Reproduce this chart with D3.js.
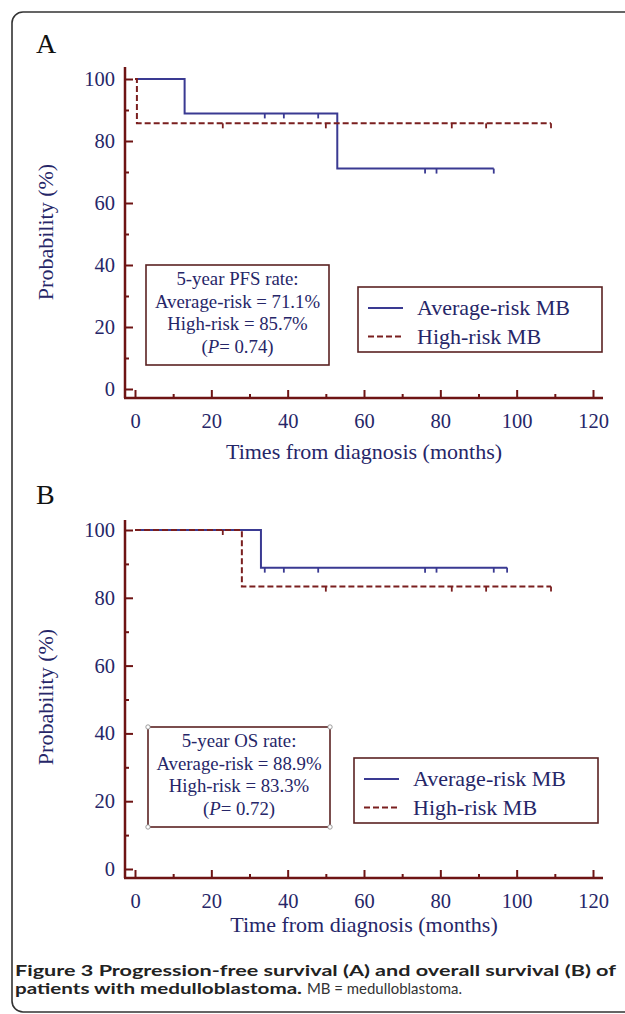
<!DOCTYPE html>
<html><head><meta charset="utf-8">
<script src="https://cdn.jsdelivr.net/npm/d3@7"></script>
<style>
body{margin:0;background:#fff;}
svg{display:block;}
</style></head>
<body>
<svg id="c" width="625" height="1014"></svg>
<script>
// ---------- data ----------
const xTicks = [0,20,40,60,80,100,120];
const xMinor = [10,30,50,70,90,110];
const yTicks = [0,20,40,60,80,100];
const yMinor = [10,30,50,70,90];

// Panel A (PFS)
const avgA_times = [0,13,53,94];
const avgA_surv  = [100,88.9,71.1,71.1];
const avgA_cens  = [34,39,48,76,79,94];
const highA_times = [0,0.5,109];
const highA_surv  = [100,85.7,85.7];
const highA_cens  = [23,50,83,92,109];

// Panel B (OS)
const avgB_times = [0,33,97.5];
const avgB_surv  = [100,88.9,88.9];
const avgB_cens  = [34,39,48,76,79,94,97.5];
const highB_times = [0,28,109];
const highB_surv  = [100,83.3,83.3];
const highB_cens  = [23,50,83,92,109];

const seriesNames = ["Average-risk MB","High-risk MB"];
const statsA = ["5-year PFS rate:","Average-risk = 71.1%","High-risk = 85.7%","0.74"];
const statsB = ["5-year OS rate:","Average-risk = 88.9%","High-risk = 83.3%","0.72"];

// ---------- style ----------
const serif = "'Liberation Serif','Times New Roman',serif";
const navy = "#262668";
const blue = "#3a3a92";
const red = "#7a1f1f";
const axisCol = "#6e1414";
const boxCol = "#5a2222";

const svg = d3.select("#c");

// frame
svg.append("rect").attr("x",12).attr("y",12).attr("width",700).attr("height",1000)
  .attr("rx",11).attr("fill","none").attr("stroke","#333").attr("stroke-width",1.6);

const x = d3.scaleLinear().domain([0,120]).range([135,593]);

function survAt(times, surv, t){
  let s = surv[0];
  for(let i=0;i<times.length;i++){ if(times[i] <= t) s = surv[i]; }
  return s;
}

function panel(o){
  const y = d3.scaleLinear().domain([0,100]).range([o.y0,o.y100]);
  const g = svg.append("g");
  g.append("text").attr("x",36).attr("y",o.letterY).text(o.letter)
    .attr("font-family",serif).attr("font-size",28).attr("fill","#111");
  g.append("line").attr("x1",125).attr("x2",125).attr("y1",o.axTop).attr("y2",o.axY)
    .attr("stroke",axisCol).attr("stroke-width",2.5);
  g.append("line").attr("x1",124).attr("x2",603).attr("y1",o.axY).attr("y2",o.axY)
    .attr("stroke",axisCol).attr("stroke-width",2.5);
  const ya = g.append("g").attr("transform","translate(125,0)")
    .call(d3.axisLeft(y).tickValues(yTicks).tickSize(-8).tickPadding(10));
  const yam = g.append("g").attr("transform","translate(125,0)")
    .call(d3.axisLeft(y).tickValues(yMinor).tickSize(-4).tickFormat(""));
  const xa = g.append("g").attr("transform",`translate(0,${o.axY})`)
    .call(d3.axisBottom(x).tickValues(xTicks).tickSize(-8).tickPadding(15));
  const xam = g.append("g").attr("transform",`translate(0,${o.axY})`)
    .call(d3.axisBottom(x).tickValues(xMinor).tickSize(-4).tickFormat(""));
  [ya,yam,xa,xam].forEach(a=>{
    a.select(".domain").remove();
    a.selectAll(".tick line").attr("stroke",axisCol).attr("stroke-width",2);
    a.selectAll(".tick text").attr("font-family",serif).attr("font-size",20.5).attr("fill",navy);
  });
  g.append("text").attr("transform",`translate(53,${o.yTitleY}) rotate(-90)`)
    .attr("text-anchor","middle").text("Probability (%)")
    .attr("font-family",serif).attr("font-size",22).attr("fill",navy);
  g.append("text").attr("x",364).attr("y",o.xTitleY).attr("text-anchor","middle")
    .text(o.xTitle).attr("font-family",serif).attr("font-size",22).attr("fill",navy);

  const line = d3.line().x(d=>x(d[0])).y(d=>y(d[1])).curve(d3.curveStepAfter);
  function curve(times, surv, cens, col, dash){
    const pts = times.map((t,i)=>[t,surv[i]]);
    g.append("path").attr("d",line(pts)).attr("fill","none").attr("stroke",col)
      .attr("stroke-width",2).attr("stroke-dasharray",dash);
    g.selectAll(null).data(cens).enter().append("line")
      .attr("x1",d=>x(d)).attr("x2",d=>x(d))
      .attr("y1",d=>y(survAt(times,surv,d))).attr("y2",d=>y(survAt(times,surv,d))+5)
      .attr("stroke",col).attr("stroke-width",1.8);
  }
  curve(o.avg[0],o.avg[1],o.avg[2],blue,null);
  curve(o.high[0],o.high[1],o.high[2],red,"6,3");

  const b = o.box;
  g.append("rect").attr("x",b.x).attr("y",b.y).attr("width",b.w).attr("height",b.h)
    .attr("fill","#fff").attr("stroke",boxCol).attr("stroke-width",1.6);
  const cx = b.x + b.w/2;
  o.stats.slice(0,3).forEach((s,i)=>{
    g.append("text").attr("x",cx).attr("y",b.y+20+i*22.5).attr("text-anchor","middle")
      .text(s).attr("font-family",serif).attr("font-size",18.8).attr("fill",navy);
  });
  const pt = g.append("text").attr("x",cx).attr("y",b.y+20+3*22.5).attr("text-anchor","middle")
    .attr("font-family",serif).attr("font-size",18.8).attr("fill",navy);
  pt.append("tspan").text("(");
  pt.append("tspan").attr("font-style","italic").text("P");
  pt.append("tspan").text("= "+o.stats[3]+")");
  if(o.handles){
    [[b.x,b.y],[b.x+b.w,b.y],[b.x,b.y+b.h],[b.x+b.w,b.y+b.h]].forEach(p=>{
      g.append("circle").attr("cx",p[0]).attr("cy",p[1]).attr("r",2.2)
        .attr("fill","#fff").attr("stroke","#888").attr("stroke-width",0.8);
    });
  }
  const L = o.leg;
  g.append("rect").attr("x",L.x).attr("y",L.y).attr("width",L.w).attr("height",L.h)
    .attr("fill","#fff").attr("stroke",boxCol).attr("stroke-width",1.6);
  [[blue,null],[red,"6,3"]].forEach((c,i)=>{
    const ly = L.y + 21 + i*28.5;
    g.append("line").attr("x1",L.x+10).attr("x2",L.x+45).attr("y1",ly).attr("y2",ly)
      .attr("stroke",c[0]).attr("stroke-width",2).attr("stroke-dasharray",c[1]);
    g.append("text").attr("x",L.x+59).attr("y",ly+7).text(seriesNames[i])
      .attr("font-family",serif).attr("font-size",22).attr("fill",navy);
  });
}

panel({letter:"A",letterY:53,y0:389,y100:79,axY:398,axTop:67,yTitleY:232,xTitleY:459,
  xTitle:"Times from diagnosis (months)",
  avg:[avgA_times,avgA_surv,avgA_cens],high:[highA_times,highA_surv,highA_cens],
  box:{x:146,y:265,w:183,h:100},stats:statsA,handles:false,
  leg:{x:358,y:287,w:244,h:65}});

panel({letter:"B",letterY:504,y0:869,y100:530,axY:878,axTop:520,yTitleY:697,xTitleY:932,
  xTitle:"Time from diagnosis (months)",
  avg:[avgB_times,avgB_surv,avgB_cens],high:[highB_times,highB_surv,highB_cens],
  box:{x:148,y:727,w:182,h:100},stats:statsB,handles:true,
  leg:{x:354,y:758,w:244,h:65}});

// caption
const sans = "Lato,'Open Sans',sans-serif";
svg.append("text").attr("x",15).attr("y",976).attr("font-family",sans).attr("font-weight","bold")
  .attr("font-size",15).attr("fill","#222").attr("textLength",601).attr("lengthAdjust","spacingAndGlyphs")
  .text("Figure 3 Progression-free survival (A) and overall survival (B) of");
svg.append("text").attr("x",15).attr("y",994).attr("font-family",sans).attr("font-weight","bold")
  .attr("font-size",15).attr("fill","#222").attr("textLength",287).attr("lengthAdjust","spacingAndGlyphs")
  .text("patients with medulloblastoma.");
svg.append("text").attr("x",307).attr("y",994).attr("font-family",sans)
  .attr("font-size",15).attr("fill","#333").attr("textLength",155).attr("lengthAdjust","spacingAndGlyphs")
  .text("MB = medulloblastoma.");
</script>
</body></html>
